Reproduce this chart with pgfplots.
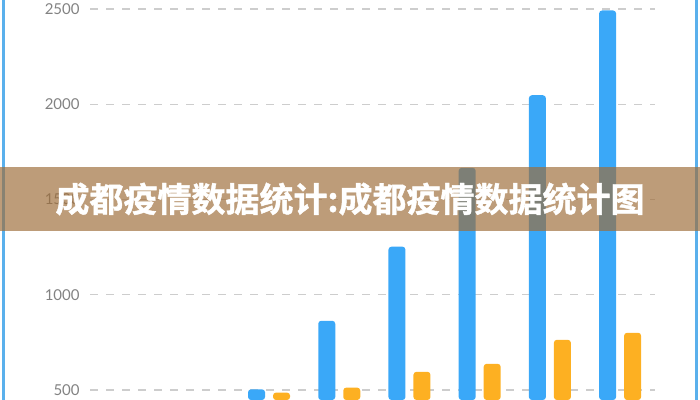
\documentclass[border=0pt]{standalone}
\usepackage{pgfplots}
\pgfplotsset{compat=1.18}
\usepackage{fontspec}
\setmainfont{Lato}
\newfontfamily\cjk[FakeBold=1.2]{Noto Sans CJK SC Bold}
\definecolor{barblue}{RGB}{58,168,248}
\definecolor{barorange}{RGB}{253,176,34}
\definecolor{ticklab}{RGB}{130,130,130}
\definecolor{gridc}{RGB}{205,205,205}
\definecolor{banner}{RGB}{158,109,57}
\definecolor{frameblue}{RGB}{90,176,236}
\begin{document}
\begin{tikzpicture}
\useasboundingbox (0,0) rectangle (350bp,200bp);
\begin{axis}[
  at={(45bp,0bp)}, anchor=south west,
  scale only axis, width=282.6bp, height=200bp,
  xmin=-0.55, xmax=7.5, ymin=447, ymax=2547,
  axis line style={draw=none},
  major tick length=0pt,
  xtick=\empty,
  ytick={500,1000,1500,2000,2500},
  ymajorgrids,
  grid style={gridc, dash pattern=on 4bp off 4bp, line width=0.6bp},
  yticklabel style={font=\fontsize{7.5bp}{9bp}\selectfont, text=ticklab, inner sep=0pt, xshift=-5bp},
  /pgf/number format/assume math mode=true,
  /pgf/number format/1000 sep={},
  ybar=4bp, bar width=8.5bp,
]
\addplot[fill=barblue, draw=none, rounded corners=1.5bp] coordinates {(2,503) (3,863) (4,1252) (5,1666) (6,2047) (7,2492)};
\addplot[fill=barorange, draw=none, rounded corners=1.5bp] coordinates {(2,486) (3,512) (4,595) (5,637) (6,763) (7,800)};
\end{axis}
\draw[frameblue, line width=1.5bp] (1.75bp,0) -- (1.75bp,200bp);
\draw[frameblue, line width=1.5bp] (348.25bp,0) -- (348.25bp,200bp);
\fill[banner, opacity=0.68] (0,84.5bp) rectangle (350bp,116.5bp);
\node[text=white, font=\cjk\fontsize{17bp}{20bp}\selectfont, inner sep=0pt] at (175bp,100.5bp) {成都疫情数据统计:成都疫情数据统计图};
\end{tikzpicture}
\end{document}
